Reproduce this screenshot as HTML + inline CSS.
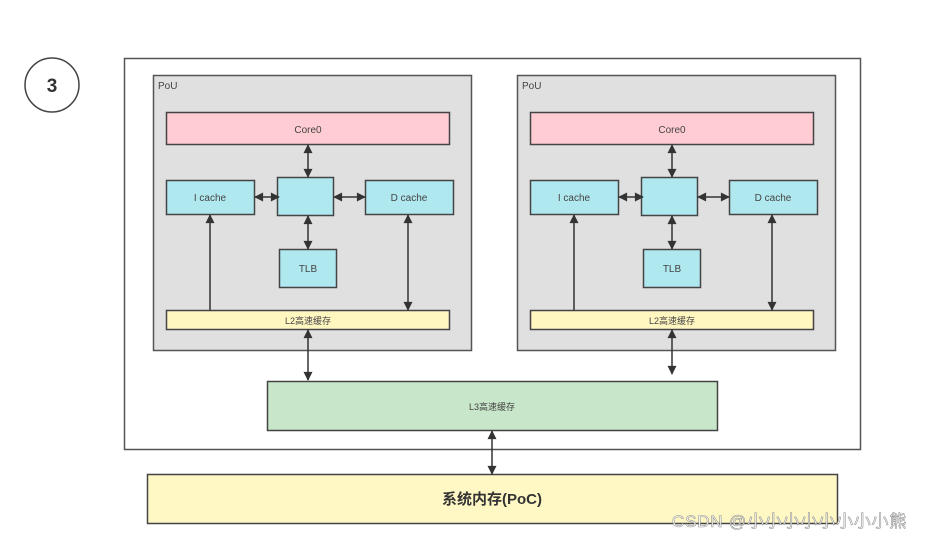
<!DOCTYPE html>
<html><head><meta charset="utf-8"><style>
html,body{margin:0;padding:0;background:#fff;}
svg{display:block;font-family:"Liberation Sans","Noto Sans CJK SC",sans-serif;}
</style></head><body>
<svg width="928" height="539" viewBox="0 0 928 539" xmlns="http://www.w3.org/2000/svg">
<defs>
<marker id="a" viewBox="0 0 10 10" refX="9" refY="5" markerWidth="10" markerHeight="9" orient="auto-start-reverse" markerUnits="userSpaceOnUse"><path d="M0,0 L10,5 L0,10 z" fill="#333"/></marker>
<g id="pou">
<rect x="153.5" y="75.5" width="318" height="275" fill="#e0e0e0" stroke="#555" stroke-width="1.5"/>
<text x="158" y="89" font-size="10" fill="#444">PoU</text>
<rect x="166.5" y="112.5" width="283" height="32" fill="#ffccd3" stroke="#444" stroke-width="1.5"/>
<text x="308" y="133" font-size="10" fill="#444" text-anchor="middle">Core0</text>
<rect x="166.5" y="180.5" width="88" height="34" fill="#b0e8f0" stroke="#444" stroke-width="1.5"/>
<text x="210" y="201" font-size="10" fill="#444" text-anchor="middle">I cache</text>
<rect x="277.5" y="177.5" width="56" height="38" fill="#b0e8f0" stroke="#444" stroke-width="1.5"/>
<rect x="365.5" y="180.5" width="88" height="34" fill="#b0e8f0" stroke="#444" stroke-width="1.5"/>
<text x="409" y="201" font-size="10" fill="#444" text-anchor="middle">D cache</text>
<rect x="279.5" y="249.5" width="57" height="38" fill="#b0e8f0" stroke="#444" stroke-width="1.5"/>
<text x="308" y="272" font-size="10" fill="#444" text-anchor="middle">TLB</text>
<rect x="166.5" y="310.5" width="283" height="19" fill="#fff6c0" stroke="#444" stroke-width="1.5"/>
<text x="308" y="324" font-size="9" fill="#444" text-anchor="middle">L2高速缓存</text>
<g stroke="#333" stroke-width="1.5" fill="none">
<line x1="308" y1="145" x2="308" y2="177" marker-start="url(#a)" marker-end="url(#a)"/>
<line x1="308" y1="216" x2="308" y2="249" marker-start="url(#a)" marker-end="url(#a)"/>
<line x1="255" y1="197" x2="279" y2="197" marker-start="url(#a)" marker-end="url(#a)"/>
<line x1="334" y1="197" x2="365" y2="197" marker-start="url(#a)" marker-end="url(#a)"/>
<line x1="210" y1="310" x2="210" y2="215" marker-end="url(#a)"/>
<line x1="408" y1="215" x2="408" y2="310" marker-start="url(#a)" marker-end="url(#a)"/>
</g>
</g>
</defs>
<circle cx="52" cy="85" r="27" fill="#fff" stroke="#444" stroke-width="1.5"/>
<text x="52" y="92" font-size="19" font-weight="bold" fill="#333" text-anchor="middle">3</text>
<rect x="124.5" y="58.5" width="736" height="391" fill="#fff" stroke="#555" stroke-width="1.5"/>
<use href="#pou"/>
<use href="#pou" transform="translate(364,0)"/>
<rect x="267.5" y="381.5" width="450" height="49" fill="#c8e6c9" stroke="#444" stroke-width="1.5"/>
<text x="492" y="410" font-size="9" fill="#444" text-anchor="middle">L3高速缓存</text>
<rect x="147.5" y="474.5" width="690" height="49" fill="#fff8c4" stroke="#444" stroke-width="1.5"/>
<text x="492" y="504" font-size="15" font-weight="bold" fill="#333" text-anchor="middle">系统内存(PoC)</text>
<g stroke="#333" stroke-width="1.5" fill="none">
<line x1="308" y1="330" x2="308" y2="380" marker-start="url(#a)" marker-end="url(#a)"/>
<line x1="672" y1="330" x2="672" y2="374" marker-start="url(#a)" marker-end="url(#a)"/>
<line x1="492" y1="431" x2="492" y2="474" marker-start="url(#a)" marker-end="url(#a)"/>
</g>
<text x="672" y="527" font-size="17" letter-spacing="0.8" fill="#fff" stroke="#888" stroke-width="0.6" opacity="0.9">CSDN @小小小小小小小小熊</text>
</svg>
</body></html>
